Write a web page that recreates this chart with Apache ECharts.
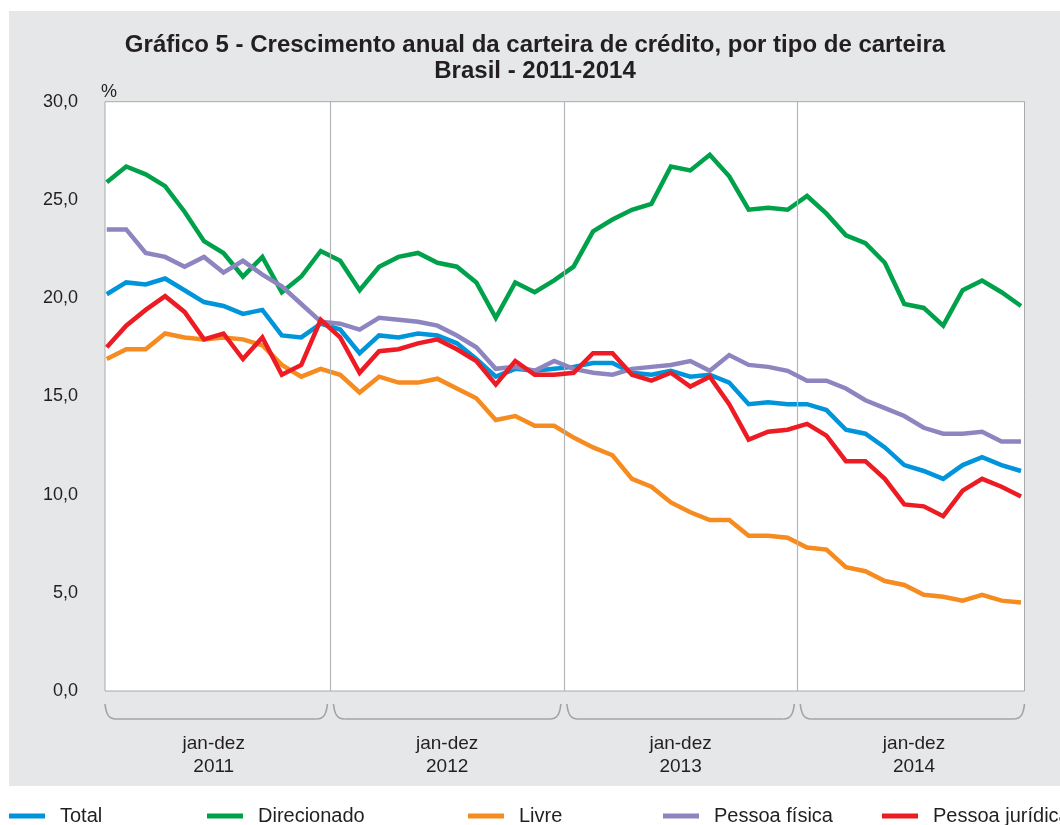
<!DOCTYPE html>
<html>
<head>
<meta charset="utf-8">
<script src="https://cdn.jsdelivr.net/npm/echarts@6/dist/echarts.min.js"></script>
<style>html,body{margin:0;padding:0;background:#fff}#c{width:1060px;height:825px}</style>
</head>
<body>
<div id="c"></div>
<script>
const seriesNames = ['Total', 'Direcionado', 'Livre', 'Pessoa física', 'Pessoa jurídica'];
const yearLabels = ['jan-dez\n2011', 'jan-dez\n2012', 'jan-dez\n2013', 'jan-dez\n2014'];
const yTicks = [0, 5, 10, 15, 20, 25, 30];

const total = [
  20.2, 20.8, 20.7, 21.0, 20.4, 19.8, 19.6, 19.2, 19.4, 18.1, 18.0, 18.7,
  18.4, 17.2, 18.1, 18.0, 18.2, 18.1, 17.7, 16.9, 16.0, 16.4, 16.3, 16.4,
  16.5, 16.7, 16.7, 16.2, 16.1, 16.3, 16.0, 16.1, 15.7, 14.6, 14.7, 14.6,
  14.6, 14.3, 13.3, 13.1, 12.4, 11.5, 11.2, 10.8, 11.5, 11.9, 11.5, 11.2
];
const direcionado = [
  25.9, 26.7, 26.3, 25.7, 24.4, 22.9, 22.3, 21.1, 22.1, 20.3, 21.1, 22.4,
  21.9, 20.4, 21.6, 22.1, 22.3, 21.8, 21.6, 20.8, 19.0, 20.8, 20.3, 20.9,
  21.6, 23.4, 24.0, 24.5, 24.8, 26.7, 26.5, 27.3, 26.2, 24.5, 24.6, 24.5,
  25.2, 24.3, 23.2, 22.8, 21.8, 19.7, 19.5, 18.6, 20.4, 20.9, 20.3, 19.6
];
const livre = [
  16.9, 17.4, 17.4, 18.2, 18.0, 17.9, 18.0, 17.9, 17.6, 16.6, 16.0, 16.4,
  16.1, 15.2, 16.0, 15.7, 15.7, 15.9, 15.4, 14.9, 13.8, 14.0, 13.5, 13.5,
  12.9, 12.4, 12.0, 10.8, 10.4, 9.6, 9.1, 8.7, 8.7, 7.9, 7.9, 7.8,
  7.3, 7.2, 6.3, 6.1, 5.6, 5.4, 4.9, 4.8, 4.6, 4.9, 4.6, 4.5
];
const pessoaFisica = [
  23.5, 23.5, 22.3, 22.1, 21.6, 22.1, 21.3, 21.9, 21.2, 20.6, 19.7, 18.8,
  18.7, 18.4, 19.0, 18.9, 18.8, 18.6, 18.1, 17.5, 16.4, 16.5, 16.3, 16.8,
  16.4, 16.2, 16.1, 16.4, 16.5, 16.6, 16.8, 16.3, 17.1, 16.6, 16.5, 16.3,
  15.8, 15.8, 15.4, 14.8, 14.4, 14.0, 13.4, 13.1, 13.1, 13.2, 12.7, 12.7
];
const pessoaJuridica = [
  17.5, 18.6, 19.4, 20.1, 19.3, 17.9, 18.2, 16.9, 18.0, 16.1, 16.6, 18.9,
  18.0, 16.2, 17.3, 17.4, 17.7, 17.9, 17.4, 16.8, 15.6, 16.8, 16.1, 16.1,
  16.2, 17.2, 17.2, 16.1, 15.8, 16.2, 15.5, 16.0, 14.6, 12.8, 13.2, 13.3,
  13.6, 13.0, 11.7, 11.7, 10.8, 9.5, 9.4, 8.9, 10.2, 10.8, 10.4, 9.9
];

const allSeries = [total, direcionado, livre, pessoaFisica, pessoaJuridica];
const colors = ['#0095da', '#00a14b', '#f68b1f', '#8c85c0', '#ed1c24'];
const legendLeft = [9, 207, 468, 663, 882];
const FONT = '"Liberation Sans", Arial, Helvetica, sans-serif';
const TXT = '#231f20';

const chart = echarts.init(document.getElementById('c'), null, {renderer: 'canvas'});

const option = {
  backgroundColor: '#ffffff',
  animation: false,
  textStyle: {fontFamily: FONT, color: TXT},
  title: [
    {
      text: 'Gráfico 5 - Crescimento anual da carteira de crédito, por tipo de carteira\nBrasil - 2011-2014',
      left: 535, top: 32, textAlign: 'center', padding: 0,
      textStyle: {fontFamily: FONT, fontSize: 24, fontWeight: 'bold', color: TXT, lineHeight: 26}
    },
    {
      text: '%', left: 101, top: 83, padding: 0,
      textStyle: {fontFamily: FONT, fontSize: 18, fontWeight: 'normal', color: TXT}
    }
  ],
  legend: seriesNames.map((n, i) => ({
    data: [n], left: legendLeft[i], top: 806, padding: 0,
    icon: 'rect', itemWidth: 36, itemHeight: 5,
    textStyle: {fontFamily: FONT, fontSize: 20, color: TXT, padding: [0, 0, 0, 10]},
    selectedMode: false
  })),
  grid: {
    left: 105, right: 35.5, top: 101.7, bottom: 134,
    show: true, backgroundColor: '#ffffff', borderColor: '#a7a9ac', borderWidth: 1
  },
  xAxis: {
    type: 'value', min: -0.09, max: 47.18,
    axisLine: {show: false}, axisTick: {show: false}, axisLabel: {show: false}, splitLine: {show: false}
  },
  yAxis: {
    type: 'value', min: yTicks[0], max: yTicks[yTicks.length - 1], interval: 5,
    axisLine: {show: false}, axisTick: {show: false}, splitLine: {show: false},
    axisLabel: {
      margin: 27, fontSize: 18, color: TXT, fontFamily: FONT,
      formatter: v => v.toFixed(1).replace('.', ',')
    }
  },
  series: allSeries.map((arr, i) => {
    const s = {
      name: seriesNames[i], type: 'line', symbol: 'none', smooth: false,
      color: colors[i],
      lineStyle: {width: 4.5, color: colors[i], join: 'miter'},
      data: arr.map((v, k) => [k, v]),
      z: 2 + i
    };
    if (i === 0) {
      s.markLine = {
        silent: true, symbol: 'none', animation: false,
        label: {show: false},
        lineStyle: {color: '#b4b5b7', width: 1.2, type: 'solid'},
        emphasis: {disabled: true},
        data: [{xAxis: 11.5}, {xAxis: 23.5}, {xAxis: 35.5}]
      };
    }
    return s;
  })
};
chart.setOption(option);

// decorations: grey panel, year braces and year labels
const px = v => chart.convertToPixel({xAxisIndex: 0}, v);
const bounds = [-0.09, 11.5, 23.5, 35.5, 47.18];
const graphics = [{
  type: 'rect', z: -100, silent: true,
  shape: {x: 9, y: 11, width: 1051, height: 775},
  style: {fill: '#e6e7e8'}
}];
const topY = 704, botY = 719;
const braceStyle = {fill: null, stroke: '#a3a4a6', lineWidth: 1.6};
for (let k = 0; k < 4; k++) {
  let x0 = px(bounds[k]), x1 = px(bounds[k + 1]);
  if (k > 0) x0 += 3;
  if (k < 3) x1 -= 3;
  graphics.push({
    type: 'bezierCurve', silent: true, z: 10,
    shape: {x1: x0, y1: topY, cpx1: x0 + 1, cpy1: botY - 6, cpx2: x0 + 3, cpy2: botY, x2: x0 + 11, y2: botY},
    style: braceStyle
  });
  graphics.push({
    type: 'line', silent: true, z: 10,
    shape: {x1: x0 + 11, y1: botY, x2: x1 - 11, y2: botY},
    style: braceStyle
  });
  graphics.push({
    type: 'bezierCurve', silent: true, z: 10,
    shape: {x1: x1 - 11, y1: botY, cpx1: x1 - 3, cpy1: botY, cpx2: x1 - 1, cpy2: botY - 6, x2: x1, y2: topY},
    style: braceStyle
  });
  const cx = px(5.5 + 12 * k);
  graphics.push({
    type: 'text', silent: true, z: 10,
    x: cx, y: 732,
    style: {
      text: yearLabels[k], fill: TXT, font: '19px ' + FONT,
      textAlign: 'center', align: 'center', textVerticalAlign: 'top', verticalAlign: 'top', lineHeight: 23
    }
  });
}
chart.setOption({graphic: graphics});
</script>
</body>
</html>
